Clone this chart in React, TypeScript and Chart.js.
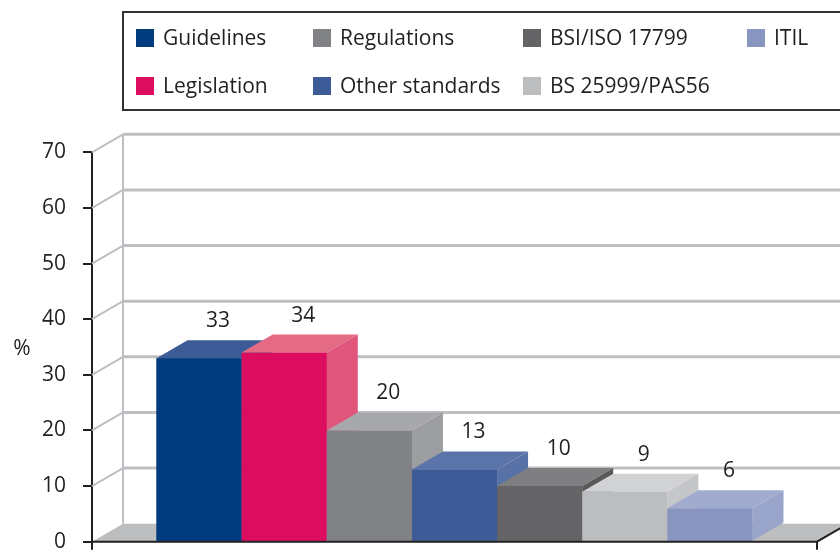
import { useEffect, useRef } from "react";
import { Chart, registerables } from "chart.js";

Chart.register(...registerables);

const categories = [""];
const seriesLabels = [
  "Guidelines",
  "Legislation",
  "Regulations",
  "Other standards",
  "BSI/ISO 17799",
  "BS 25999/PAS56",
  "ITIL",
];
const seriesValues = [33, 34, 20, 13, 10, 9, 6];
const frontColors = ["#003C7D", "#DC0C5E", "#808285", "#3D5B96", "#646466", "#BCBDBF", "#8795BF"];
const topColors = ["#3D5C97", "#E56B85", "#A7A8AB", "#5A73A9", "#7F7F82", "#D1D2D4", "#A1ABCF"];
const sideColors = ["#2E4F8C", "#E0557B", "#9D9EA1", "#5872A8", "#59595B", "#C5C6C8", "#9AA5CC"];
const yTicks = [0, 10, 20, 30, 40, 50, 60, 70];
const yTitle = "%";

const DX = 31;
const DY = 18;
const FONT = "'Open Sans', 'Noto Sans', sans-serif";
const TEXT = "#231F20";

const depthPlugin = {
  id: "depth3d",
  beforeDatasetsDraw(chart: any) {
    const { ctx, chartArea: a } = chart;
    const y = chart.scales.y;
    ctx.save();
    // floor
    ctx.fillStyle = "#BDBEC0";
    ctx.beginPath();
    ctx.moveTo(a.left, a.bottom);
    ctx.lineTo(a.right, a.bottom);
    ctx.lineTo(a.right + DX, a.bottom - DY);
    ctx.lineTo(a.left + DX, a.bottom - DY);
    ctx.closePath();
    ctx.fill();
    // back wall grid lines
    ctx.strokeStyle = "#BFBFC3";
    for (const v of yTicks) {
      if (v === 0) continue;
      const py = y.getPixelForValue(v);
      ctx.lineWidth = 2;
      ctx.beginPath();
      ctx.moveTo(a.left, py);
      ctx.lineTo(a.left + DX, py - DY);
      ctx.stroke();
      ctx.lineWidth = 3;
      ctx.beginPath();
      ctx.moveTo(a.left + DX, py - DY);
      ctx.lineTo(chart.width + 5, py - DY);
      ctx.stroke();
    }
    // left edge of back wall
    ctx.lineWidth = 2;
    ctx.beginPath();
    ctx.moveTo(a.left + DX, y.getPixelForValue(yTicks[yTicks.length - 1]) - DY);
    ctx.lineTo(a.left + DX, a.bottom - DY);
    ctx.stroke();
    ctx.restore();
  },
  afterDatasetsDraw(chart: any) {
    const { ctx, chartArea: a } = chart;
    ctx.save();
    chart.data.datasets.forEach((ds: any, i: number) => {
      const meta = chart.getDatasetMeta(i);
      meta.data.forEach((el: any) => {
        const { x, y, base, width } = el.getProps(["x", "y", "base", "width"], true);
        const l = x - width / 2;
        const r = x + width / 2;
        // front
        ctx.fillStyle = frontColors[i];
        ctx.fillRect(l, y, r - l, base - y);
        // top
        ctx.fillStyle = topColors[i];
        ctx.beginPath();
        ctx.moveTo(l, y);
        ctx.lineTo(r, y);
        ctx.lineTo(r + DX, y - DY);
        ctx.lineTo(l + DX, y - DY);
        ctx.closePath();
        ctx.fill();
        // side
        ctx.fillStyle = sideColors[i];
        ctx.beginPath();
        ctx.moveTo(r, y);
        ctx.lineTo(r + DX, y - DY);
        ctx.lineTo(r + DX, base - DY);
        ctx.lineTo(r, base);
        ctx.closePath();
        ctx.fill();
      });
    });
    // value labels
    ctx.fillStyle = TEXT;
    ctx.font = `21px ${FONT}`;
    ctx.textAlign = "center";
    ctx.textBaseline = "alphabetic";
    chart.data.datasets.forEach((ds: any, i: number) => {
      const meta = chart.getDatasetMeta(i);
      meta.data.forEach((el: any, j: number) => {
        const { x, y } = el.getProps(["x", "y"], true);
        ctx.fillText(String(ds.data[j]), x + 19, y - 31);
      });
    });
    // front axes
    ctx.strokeStyle = TEXT;
    ctx.lineWidth = 2;
    ctx.beginPath();
    ctx.moveTo(a.left, a.bottom);
    ctx.lineTo(a.right, a.bottom);
    ctx.lineTo(a.right + DX, a.bottom - DY);
    ctx.stroke();
    ctx.beginPath();
    ctx.moveTo(a.left, a.bottom);
    ctx.lineTo(a.left, a.bottom + 8);
    ctx.moveTo(a.right, a.bottom);
    ctx.lineTo(a.right, a.bottom + 8);
    ctx.stroke();
    // y title
    ctx.font = `21px ${FONT}`;
    ctx.textAlign = "center";
    ctx.textBaseline = "middle";
    ctx.fillText(yTitle, 22, (a.top + a.bottom) / 2 + 2);
    ctx.restore();
  },
};

const legendPlugin = {
  id: "gridLegend",
  afterDraw(chart: any) {
    const { ctx } = chart;
    ctx.save();
    ctx.strokeStyle = "#333333";
    ctx.lineWidth = 2;
    ctx.strokeRect(123, 12, 760, 98);
    const colX = [136, 313, 523, 747];
    const rowY = [38, 86];
    ctx.font = `21px ${FONT}`;
    ctx.textAlign = "left";
    ctx.textBaseline = "middle";
    chart.data.datasets.forEach((ds: any, i: number) => {
      const col = Math.floor(i / 2);
      const row = i % 2;
      const bx = colX[col];
      const by = rowY[row];
      ctx.fillStyle = frontColors[i];
      ctx.fillRect(bx, by - 9, 18, 18);
      ctx.fillStyle = TEXT;
      ctx.fillText(ds.label, bx + 27, by + 1);
    });
    ctx.restore();
  },
};

export default function App() {
  const canvasRef = useRef<HTMLCanvasElement | null>(null);

  useEffect(() => {
    const canvas = canvasRef.current;
    if (!canvas) return;
    const chart = new Chart(canvas, {
      type: "bar",
      data: {
        labels: categories,
        datasets: seriesLabels.map((label, i) => ({
          label,
          data: [seriesValues[i]],
          backgroundColor: frontColors[i],
          borderWidth: 0,
          categoryPercentage: 0.822,
          barPercentage: 1.0,
        })),
      },
      options: {
        responsive: false,
        animation: false,
        events: [],
        layout: { padding: { left: 0, right: 23, top: 152.3, bottom: 10.3 } },
        plugins: { legend: { display: false }, tooltip: { enabled: false } },
        scales: {
          x: { display: false },
          y: {
            min: 0,
            max: 70,
            afterFit: (scale: any) => {
              scale.width = 92;
              scale.paddingTop = 0;
              scale.paddingBottom = 0;
            },
            afterBuildTicks: (scale: any) => {
              scale.ticks = yTicks.map((v) => ({ value: v }));
            },
            ticks: {
              color: TEXT,
              font: { family: FONT, size: 21 },
              padding: 17,
            },
            grid: {
              drawOnChartArea: false,
              drawTicks: true,
              tickLength: 9,
              color: TEXT,
              lineWidth: 2,
            },
            border: { display: true, color: TEXT, width: 2 },
          },
        },
      },
      plugins: [depthPlugin, legendPlugin],
    });
    return () => chart.destroy();
  }, []);

  return (
    <div style={{ position: "fixed", left: 0, top: 0, width: 840, height: 552, background: "#fff" }}>
      <canvas ref={canvasRef} width={840} height={552} style={{ display: "block" }} />
    </div>
  );
}
